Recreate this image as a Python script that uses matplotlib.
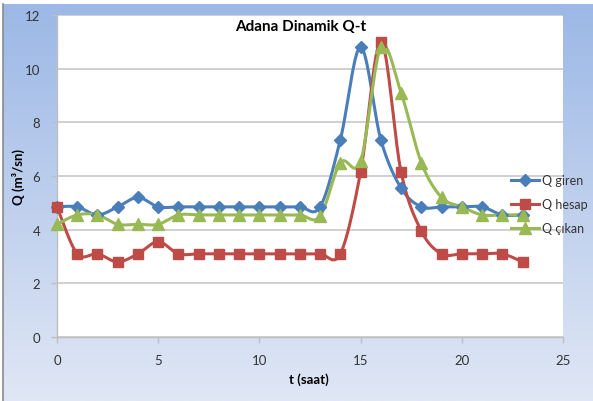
import numpy as np
import matplotlib
matplotlib.use("Agg")
import matplotlib.pyplot as plt
from matplotlib.lines import Line2D

plt.rcParams['font.family'] = ['Lato', 'DejaVu Sans']

t = list(range(24))
q_giren = [4.85, 4.85, 4.55, 4.85, 5.2, 4.85, 4.85, 4.85, 4.85, 4.85, 4.85, 4.85, 4.85, 4.85,
           7.35, 10.8, 7.35, 5.55, 4.85, 4.85, 4.85, 4.85, 4.55, 4.55]
q_hesap = [4.85, 3.1, 3.1, 2.8, 3.1, 3.55, 3.1, 3.1, 3.1, 3.1, 3.1, 3.1, 3.1, 3.1,
           3.1, 6.15, 11.0, 6.15, 3.95, 3.1, 3.1, 3.1, 3.1, 2.8]
q_cikan = [4.2, 4.55, 4.55, 4.2, 4.2, 4.2, 4.55, 4.55, 4.55, 4.55, 4.55, 4.55, 4.55, 4.5,
           6.5, 6.55, 10.8, 9.1, 6.5, 5.2, 4.85, 4.55, 4.55, 4.55]
labels = ["Q giren", "Q hesap", "Q çıkan"]
colors = ["#4A7EBB", "#BE4B48", "#98B954"]
markers = ["D", "s", "^"]
msizes = [6, 7.5, 8]


def smooth(x, y, n=20):
    x = np.asarray(x, float); y = np.asarray(y, float)
    xs, ys = [], []
    N = len(x)
    for i in range(N - 1):
        p0 = np.array([x[max(i - 1, 0)], y[max(i - 1, 0)]])
        p1 = np.array([x[i], y[i]])
        p2 = np.array([x[i + 1], y[i + 1]])
        p3 = np.array([x[min(i + 2, N - 1)], y[min(i + 2, N - 1)]])
        c1 = p1 + (p2 - p0) / 6.0
        c2 = p2 - (p3 - p1) / 6.0
        s = np.linspace(0, 1, n, endpoint=(i == N - 2))
        b = ((1 - s) ** 3)[:, None] * p1 + (3 * (1 - s) ** 2 * s)[:, None] * c1 + \
            (3 * (1 - s) * s ** 2)[:, None] * c2 + (s ** 3)[:, None] * p2
        xs.extend(b[:, 0]); ys.extend(b[:, 1])
    return np.array(xs), np.array(ys)


W, H = 593, 402
fig = plt.figure(figsize=(W / 100, H / 100), dpi=100)
fig.patch.set_facecolor("white")

# gradient background
bg = fig.add_axes([3 / W, 0, 1 - 3 / W, 1 - 5 / H])
bg.set_axis_off()
top = np.array([0x9C, 0xB8, 0xE6]) / 255
bot = np.array([0xE0, 0xE7, 0xF5]) / 255
g = np.linspace(0, 1, 256)[:, None]
grad = top[None, :] * (1 - g) + bot[None, :] * g
bg.imshow(grad[:, None, :].repeat(2, axis=1), aspect='auto', extent=[0, 1, 0, 1])
fig.add_artist(Line2D([2.5 / W, 2.5 / W], [0, 1 - 5 / H], color="#8a8a8a", lw=1.2,
                      transform=fig.transFigure))

x0, x1 = 57, 563
y0, y1 = 338, 16
ax = fig.add_axes([x0 / W, 1 - y0 / H, (x1 - x0) / W, (y0 - y1) / H])
ax.set_facecolor("white")
ax.set_xlim(0, 25)
ax.set_ylim(0, 12)
ax.set_xticks([0, 5, 10, 15, 20, 25])
ax.set_yticks([0, 2, 4, 6, 8, 10, 12])
ax.yaxis.grid(True, color="#D0D0D0", lw=1.4)
ax.set_axisbelow(True)
for s in ["top", "right"]:
    ax.spines[s].set_visible(False)
for s in ["left", "bottom"]:
    ax.spines[s].set_color("#BFBFBF")
    ax.spines[s].set_linewidth(1.0)
ax.tick_params(axis='both', colors="#BFBFBF", labelcolor="#333333", labelsize=9.5,
               length=4, width=1, direction='out')
ax.tick_params(axis='x', pad=8)
ax.tick_params(axis='y', pad=8)

handles = []
for y, c, m, ms, lab in zip([q_giren, q_hesap, q_cikan], colors, markers, msizes, labels):
    xs, ys = smooth(t, y)
    ax.plot(xs, ys, color=c, lw=2.2, zorder=3, solid_capstyle='round')
    ax.plot(t, y, linestyle='none', marker=m, ms=ms, color=c, zorder=4, clip_on=False)
    handles.append(Line2D([], [], color=c, lw=2.2, marker=m, ms=ms))

fig.legend(handles, labels, loc='center left', bbox_to_anchor=(511 / W, 1 - 205 / H),
           frameon=False, fontsize=9, handlelength=2.25, handletextpad=0.25,
           labelspacing=0.95, borderpad=0, borderaxespad=0, labelcolor="#333333")

fig.text(301 / W, 1 - 27 / H, "Adana Dinamik Q-t", ha='center', va='center',
         fontsize=11, fontweight='bold', color="black")
fig.text(18 / W, 1 - 177 / H, "Q (m³/sn)", rotation=90, ha='center', va='center',
         fontsize=9.5, fontweight='bold', color="black")
fig.text(309 / W, 1 - 380 / H, "t (saat)", ha='center', va='center',
         fontsize=9.5, fontweight='bold', color="black")

fig.savefig("out.png", dpi=100)
